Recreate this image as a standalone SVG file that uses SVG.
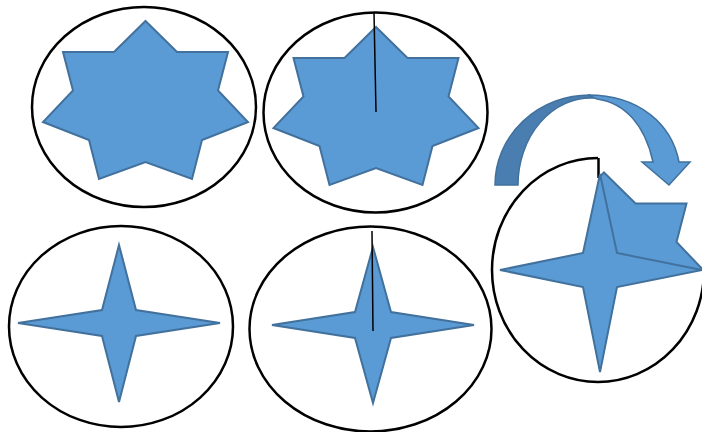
<svg xmlns="http://www.w3.org/2000/svg" width="702" height="432" viewBox="0 0 702 432">
<style>
.ring{fill:none;stroke:#000;stroke-width:2.5}
.star{fill:#5B9BD5;stroke:#41719C;stroke-width:2;stroke-linejoin:miter}
.hand{stroke:#000;stroke-width:1.5;fill:none}
.arr{stroke:#41719C;stroke-width:1.5;stroke-linejoin:miter}
</style>
<defs>
<polygon id="star7" points="0,-79.5 31.5,-48.5 82.5,-48.5 72.5,-10 102.5,21.5 56.5,39.5 46.5,78.5 0,61.5 -46.5,78.5 -56.5,39.5 -102.5,21.5 -72.5,-10 -82.5,-48.5 -31.5,-48.5"/>
<clipPath id="quad"><rect x="600" y="140" width="110" height="130.5"/></clipPath>
</defs>
<rect width="702" height="432" fill="#fff"/>
<g id="n1">
<ellipse class="ring" cx="144" cy="107" rx="112" ry="100"/>
<use href="#star7" class="star" transform="translate(145.5,100.5)"/>
</g>
<g id="n2">
<ellipse class="ring" cx="375.5" cy="112.5" rx="112" ry="100"/>
<use href="#star7" class="star" transform="translate(376,106.5)"/>
<line class="hand" x1="374" y1="13" x2="376" y2="112"/>
</g>
<g id="n3">
<ellipse class="ring" cx="121" cy="326.5" rx="112" ry="100.5"/>
<polygon class="star" points="119,245 136,310 220,323 136,336 119,402 102,336 18,323 102,310"/>
</g>
<g id="n4">
<ellipse class="ring" cx="370.5" cy="329" rx="121" ry="102.5"/>
<polygon class="star" points="373,247 391,312 474,325 391,338 373,403 355,338 272,325 355,312"/>
<line class="hand" x1="372" y1="231" x2="373" y2="331"/>
</g>
<g id="n5">
<path class="ring" d="M598,158 A106,112 0 1 0 704,270"/>
<line class="hand" x1="598.5" y1="158" x2="598.5" y2="178" style="stroke-width:2.5"/>
<g clip-path="url(#quad)"><use href="#star7" class="star" transform="translate(604,252)"/></g>
<polygon class="star" points="600,174 617,253 702,270 617,287 600,372 583,287 500,270 583,253"/>
</g>
<g id="connectors">
<path class="arr" fill="#4A7DB0" d="M495,185 A95,90 0 0 1 590,95 L593,98 A73,87 0 0 0 518,185 Z"/>
<path class="arr" fill="#5B9BD5" d="M588,95 C640,95 672,125 679,162 L690,162 L669,185 L642,162 L653,162 C645,125 625,103 597,99 Z"/>
</g>
</svg>
